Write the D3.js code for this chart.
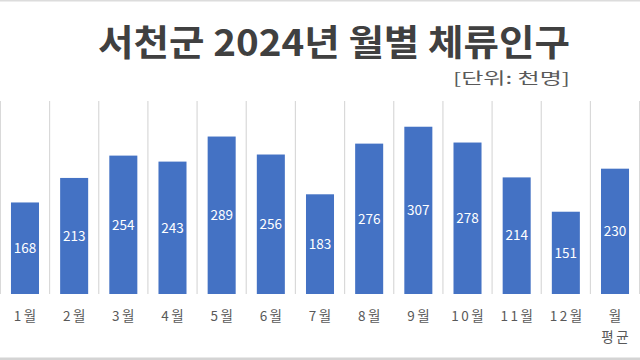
<!DOCTYPE html>
<html>
<head>
<meta charset="utf-8">
<script src="https://cdn.jsdelivr.net/npm/d3@7"></script>
<style>
  html, body { margin: 0; padding: 0; background: #fff; }
  svg { display: block; }
</style>
</head>
<body>
<svg id="chart" width="640" height="360"></svg>
<script>
const titleText = "서천군 2024년 월별 체류인구";
const unitText = "[단위: 천명]";
const categories = ["1월","2월","3월","4월","5월","6월","7월","8월","9월","10월","11월","12월","월 평균"];
const values = [168, 213, 254, 243, 289, 256, 183, 276, 307, 278, 214, 151, 230];
const yDomain = [0, 350];

const W = 640, H = 360;
const svg = d3.select("#chart");
const fontKR = "'Noto Sans CJK KR', 'Noto Sans', sans-serif";

svg.append("rect").attr("x", 0).attr("y", 0).attr("width", W).attr("height", H).attr("fill", "#fff");
// frame lines top & bottom
svg.append("rect").attr("x", 0).attr("y", 0).attr("width", W).attr("height", 1.5).attr("fill", "#dcdcdc");
svg.append("rect").attr("x", 0).attr("y", 357.5).attr("width", W).attr("height", 2.5).attr("fill", "#d4d4d4");

const x = d3.scaleBand().domain(categories).range([0.4, 639.6]).paddingInner(0.43).paddingOuter(0.215);
const y = d3.scaleLinear().domain(yDomain).range([294, 103.3]);

const step = x.step();
const bounds = categories.map(c => x(c) - step * 0.215).concat([x(categories[categories.length - 1]) + x.bandwidth() + step * 0.215]);

// vertical category gridlines
svg.append("g").selectAll("line").data(bounds).join("line")
  .attr("x1", d => d).attr("x2", d => d)
  .attr("y1", 101).attr("y2", 294)
  .attr("stroke", "#d9d9d9").attr("stroke-width", 1.2);

// bars
svg.append("g").selectAll("rect").data(values).join("rect")
  .attr("x", (d, i) => x(categories[i]))
  .attr("width", x.bandwidth())
  .attr("y", d => y(d))
  .attr("height", d => y(0) - y(d))
  .attr("fill", "#4472c4");

// data labels
svg.append("g").selectAll("text").data(values).join("text")
  .attr("x", (d, i) => x(categories[i]) + x.bandwidth() / 2)
  .attr("y", d => (y(d) + y(0)) / 2)
  .attr("dy", "0.35em")
  .attr("text-anchor", "middle")
  .attr("fill", "#ffffff")
  .style("font-family", fontKR)
  .style("font-size", "13.5px")
  .text(d => d);

// category axis
const axis = svg.append("g").attr("transform", "translate(0,294)")
  .call(d3.axisBottom(x).tickSize(0).tickPadding(0));
axis.select(".domain").remove();
axis.selectAll(".tick text").each(function(d) {
  const t = d3.select(this);
  t.text(null).attr("y", 0).attr("dy", null)
    .attr("fill", "#595959")
    .style("font-family", fontKR)
    .style("font-size", "13.5px")
    .style("letter-spacing", "2.5px");
  const parts = d.split(" ");
  parts.forEach((p, k) => {
    t.append("tspan").attr("x", 1.25).attr("y", 27 + k * 21).text(p);
  });
});

// title
svg.append("text")
  .attr("x", 98).attr("y", 55.5)
  .attr("textLength", 472).attr("lengthAdjust", "spacingAndGlyphs")
  .attr("fill", "#404040")
  .style("font-family", fontKR)
  .style("font-weight", "700")
  .style("font-size", "36px")
  .text(titleText);

svg.append("text")
  .attr("x", 453).attr("y", 84)
  .attr("textLength", 117).attr("lengthAdjust", "spacingAndGlyphs")
  .attr("fill", "#595959")
  .style("font-family", fontKR)
  .style("font-weight", "400")
  .style("font-size", "15.5px")
  .text(unitText);
</script>
</body>
</html>
